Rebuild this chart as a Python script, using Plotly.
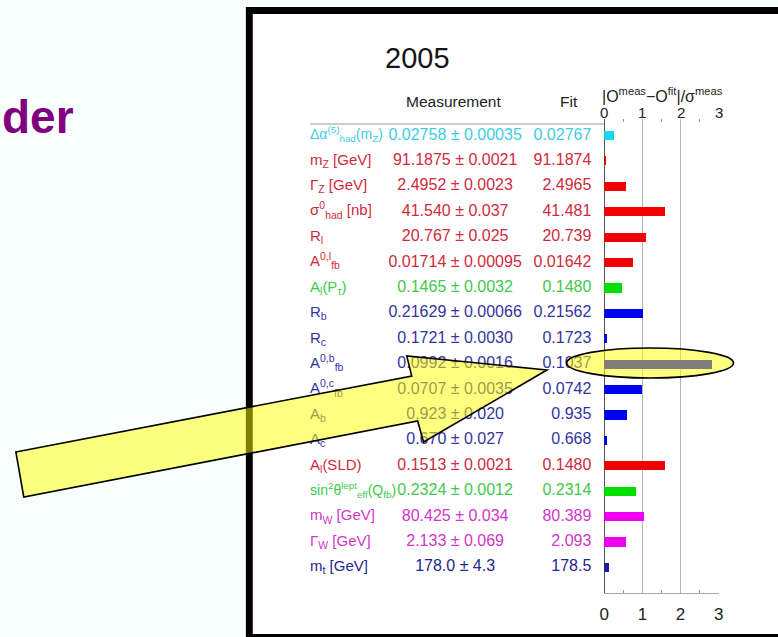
import plotly.graph_objects as go

W, H = 778, 637

# ---- data -------------------------------------------------------------
labels = [
    "Δα<sup>(5)</sup><sub>had</sub>(m<sub>Z</sub>)",
    "m<sub>Z</sub> [GeV]",
    "Γ<sub>Z</sub> [GeV]",
    "σ<sup>0</sup><sub>had</sub> [nb]",
    "R<sub>l</sub>",
    "A<sup>0,l</sup><sub>fb</sub>",
    "A<sub>l</sub>(P<sub>τ</sub>)",
    "R<sub>b</sub>",
    "R<sub>c</sub>",
    "A<sup>0,b</sup><sub>fb</sub>",
    "A<sup>0,c</sup><sub>fb</sub>",
    "A<sub>b</sub>",
    "A<sub>c</sub>",
    "A<sub>l</sub>(SLD)",
    "sin<sup>2</sup>θ<sup>lept</sup><sub>eff</sub>(Q<sub>fb</sub>)",
    "m<sub>W</sub> [GeV]",
    "Γ<sub>W</sub> [GeV]",
    "m<sub>t</sub> [GeV]",
]
measurements = [
    "0.02758 ± 0.00035", "91.1875 ± 0.0021", "2.4952 ± 0.0023",
    "41.540 ± 0.037", "20.767 ± 0.025", "0.01714 ± 0.00095",
    "0.1465 ± 0.0032", "0.21629 ± 0.00066", "0.1721 ± 0.0030",
    "0.0992 ± 0.0016", "0.0707 ± 0.0035", "0.923 ± 0.020",
    "0.670 ± 0.027", "0.1513 ± 0.0021", "0.2324 ± 0.0012",
    "80.425 ± 0.034", "2.133 ± 0.069", "178.0 ± 4.3",
]
fits = [
    "0.02767", "91.1874", "2.4965", "41.481", "20.739", "0.01642",
    "0.1480", "0.21562", "0.1723", "0.1037", "0.0742", "0.935",
    "0.668", "0.1480", "0.2314", "80.389", "2.093", "178.5",
]
pulls = [0.26, 0.05, 0.57, 1.60, 1.10, 0.76, 0.47, 1.01, 0.07,
         2.82, 0.99, 0.59, 0.07, 1.59, 0.83, 1.06, 0.58, 0.12]
groups = ["alpha", "z", "z", "z", "z", "z", "pol", "hf", "hf", "hf",
          "hf", "hf", "hf", "z", "pol", "w", "w", "top"]
pull_ticks = [0, 1, 2, 3]

# ---- styling ----------------------------------------------------------
TEXT_COL = {"alpha": "#40cde0", "z": "#cf2b3c", "pol": "#3fc94c",
            "hf": "#34349e", "w": "#d435c8", "top": "#252590"}
BAR_COL = {"alpha": "#18d8f0", "z": "#f00000", "pol": "#00e000",
           "hf": "#0000f0", "w": "#f000f0", "top": "#1c1ca0"}
FONT = "Liberation Sans, Arial, Helvetica, sans-serif"

ROW0, ROW_STEP = 135.5, 25.41          # pixel centre of first row, row pitch
Y_TOP, Y_BOT = 119, 593                # vertical extent of pull panel
X0_PX, X3_PX = 607, 723                # pull axis 0 .. 3
LABEL_X, MEAS_X, FIT_X = 309, 456, 594  # table columns


def fx(x):
    return x / W


def fy(y):
    return 1 - y / H


def row_of(py):
    return (py - ROW0) / ROW_STEP


rows = list(range(len(labels)))
text_cols = [TEXT_COL[g] for g in groups]
bar_cols = [BAR_COL[g] for g in groups]
# the two labels carrying both a super- and a subscript are set a bit smaller
label_sizes = [14 if ("<sup>" in s and s.count("<sub>") > 1) else 15
               for s in labels]

fig = go.Figure()

fig.add_trace(go.Bar(
    x=pulls, y=rows, orientation="h", width=0.36,
    marker=dict(color=bar_cols, line=dict(width=0)),
    xaxis="x", yaxis="y", hoverinfo="skip", showlegend=False,
))

# table columns as text traces (so the overlay shapes sit on top of them)
fig.add_trace(go.Scatter(
    x=[LABEL_X] * len(rows), y=rows, mode="text", text=labels,
    textposition="middle right",
    textfont=dict(family=FONT, size=label_sizes, color=text_cols),
    xaxis="x3", yaxis="y", hoverinfo="skip", showlegend=False,
))
fig.add_trace(go.Scatter(
    x=[MEAS_X] * len(rows), y=rows, mode="text", text=measurements,
    textposition="middle center",
    textfont=dict(family=FONT, size=16, color=text_cols),
    xaxis="x3", yaxis="y", hoverinfo="skip", showlegend=False,
))
fig.add_trace(go.Scatter(
    x=[FIT_X] * len(rows), y=rows, mode="text", text=fits,
    textposition="middle left",
    textfont=dict(family=FONT, size=16, color=text_cols),
    xaxis="x3", yaxis="y", hoverinfo="skip", showlegend=False,
))

shapes = [
    # slide frame
    dict(type="rect", xref="paper", yref="paper", layer="below",
         x0=fx(244), x1=fx(820), y0=fy(7), y1=fy(700),
         fillcolor="black", line=dict(width=0)),
    dict(type="rect", xref="paper", yref="paper", layer="below",
         x0=fx(251), x1=fx(820), y0=fy(14), y1=fy(634),
         fillcolor="white", line=dict(width=0)),
    # table header rule
    dict(type="line", xref="paper", yref="paper", layer="below",
         x0=fx(309), x1=fx(X0_PX), y0=fy(124), y1=fy(124),
         line=dict(color="#9a9a9a", width=1)),
]

# highlight arrow
arrow_pts = [(11, 452), (412, 376), (407, 356), (549, 370),
             (424, 442), (418, 421), (19, 497)]
path = "M " + " L ".join(f"{fx(x):.5f},{fy(y):.5f}" for x, y in arrow_pts) + " Z"
shapes.append(dict(type="path", xref="paper", yref="paper", layer="above",
                   path=path, fillcolor="rgba(255,255,0,0.5)",
                   line=dict(color="black", width=1.6)))
# highlight ellipse
shapes.append(dict(type="circle", xref="paper", yref="paper", layer="above",
                   x0=fx(569), x1=fx(738), y0=fy(348), y1=fy(378),
                   fillcolor="rgba(255,255,0,0.5)",
                   line=dict(color="black", width=1.6)))

annotations = [
    dict(text="2005", x=fx(418), y=fy(58), xref="paper", yref="paper",
         showarrow=False, font=dict(family=FONT, size=29, color="#141414"),
         xanchor="center", yanchor="middle"),
    dict(text="Measurement", x=fx(454), y=fy(101), xref="paper", yref="paper",
         showarrow=False, font=dict(family=FONT, size=15.5, color="#222222"),
         xanchor="center", yanchor="middle"),
    dict(text="Fit", x=fx(571), y=fy(101), xref="paper", yref="paper",
         showarrow=False, font=dict(family=FONT, size=15.5, color="#222222"),
         xanchor="center", yanchor="middle"),
    dict(text="|O<sup>meas</sup>−O<sup>fit</sup>|/σ<sup>meas</sup>",
         x=fx(603), y=fy(95), xref="paper", yref="paper",
         showarrow=False, font=dict(family=FONT, size=16, color="#222222"),
         xanchor="left", yanchor="middle"),
    dict(text="<b>der</b>", x=fx(-5), y=fy(117), xref="paper", yref="paper",
         showarrow=False, font=dict(family=FONT, size=46, color="#800080"),
         xanchor="left", yanchor="middle"),
]
# tick labels of the upper pull scale
for t in pull_ticks:
    annotations.append(dict(
        text=str(t), x=t, y=fy(113), xref="x", yref="paper",
        showarrow=False, font=dict(family=FONT, size=15, color="#222222"),
        xanchor="center", yanchor="middle"))

fig.update_layout(
    width=W, height=H, margin=dict(l=0, r=0, t=0, b=0),
    paper_bgcolor="#f7fefc", plot_bgcolor="rgba(0,0,0,0)",
    shapes=shapes, annotations=annotations, bargap=0,
    xaxis=dict(
        domain=[fx(X0_PX), fx(X3_PX)], range=[0, 3], anchor="y",
        tickvals=pull_ticks, ticks="", showgrid=True, gridcolor="#b4b4b4",
        gridwidth=1, zeroline=True, zerolinecolor="#555555", zerolinewidth=1,
        showline=True, linecolor="#a8a8a8", linewidth=1,
        tickfont=dict(family=FONT, size=17, color="#222222"),
        ticklabelstandoff=6,
        minor=dict(tickvals=[0.5, 1.5, 2.5], ticks="inside", ticklen=3,
                   tickcolor="#999999"),
        fixedrange=True,
    ),
    xaxis2=dict(
        overlaying="x", matches="x", side="top", anchor="y", range=[0, 3],
        tickvals=pull_ticks, ticks="", showgrid=False, zeroline=False,
        showline=False, showticklabels=False,
        minor=dict(tickvals=[0.5, 1.5, 2.5], ticks="inside", ticklen=3,
                   tickcolor="#999999"),
    ),
    xaxis3=dict(domain=[0, 1], range=[0, W], anchor="y", visible=False,
                fixedrange=True),
    yaxis=dict(
        domain=[fy(Y_BOT), fy(Y_TOP)], range=[row_of(Y_BOT), row_of(Y_TOP)],
        visible=False, fixedrange=True,
    ),
)

# attach an invisible trace so the top axis is drawn
fig.add_trace(go.Scatter(x=[None], y=[None], xaxis="x2", yaxis="y",
                         showlegend=False, hoverinfo="skip"))

fig.write_html("out.html")
